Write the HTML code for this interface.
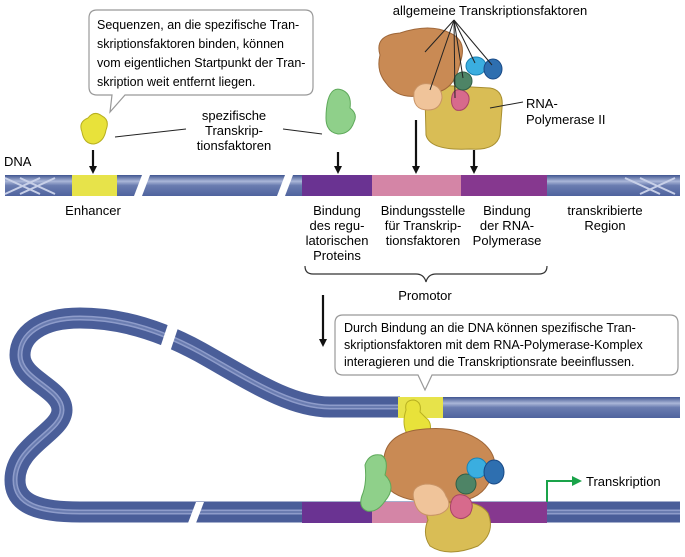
<!DOCTYPE html>
<html><head><meta charset="utf-8"><style>
html,body{margin:0;padding:0;background:#fff;}
svg{display:block;font-family:"Liberation Sans",sans-serif;}
</style></head><body>
<svg width="685" height="557" viewBox="0 0 685 557" xmlns="http://www.w3.org/2000/svg">
<defs>
<linearGradient id="dna" x1="0" y1="0" x2="0" y2="1">
<stop offset="0" stop-color="#3f5590"/><stop offset="0.3" stop-color="#aab6d8"/><stop offset="0.5" stop-color="#6a7cb0"/><stop offset="1" stop-color="#4f639e"/>
</linearGradient>
<marker id="ah" markerWidth="8" markerHeight="8" refX="4" refY="4" orient="auto" markerUnits="userSpaceOnUse"><path d="M0,0 L8,4 L0,8z" fill="#111"/></marker>
</defs>
<!-- top DNA -->
<rect x="5" y="175" width="675" height="21" fill="url(#dna)"/>
<rect x="72" y="175" width="45" height="21" fill="#e7e34a"/>
<rect x="302" y="175" width="70" height="21" fill="#6a3392"/>
<rect x="372" y="175" width="89" height="21" fill="#d485a6"/>
<rect x="461" y="175" width="86" height="21" fill="#86388f"/>
<polygon points="142,175 150,175 142,196 134,196" fill="#fff"/>
<polygon points="285,175 293,175 285,196 277,196" fill="#fff"/>
<path d="M5,178 L40,194 M5,194 L40,178 M20,178 L55,194 M20,194 L55,178 M640,178 L675,194 M640,194 L675,178 M625,178 L660,194" stroke="#c8d0e8" stroke-width="2" fill="none"/>
<!-- labels -->
<text x="4" y="166" font-size="13">DNA</text>
<text x="93" y="215" font-size="13" text-anchor="middle">Enhancer</text>
<g font-size="13" text-anchor="middle">
<text x="337" y="215">Bindung</text><text x="337" y="230">des regu-</text><text x="337" y="245">latorischen</text><text x="337" y="260">Proteins</text>
<text x="423" y="215">Bindungsstelle</text><text x="423" y="230">für Transkrip-</text><text x="423" y="245">tionsfaktoren</text>
<text x="507" y="215">Bindung</text><text x="507" y="230">der RNA-</text><text x="507" y="245">Polymerase</text>
<text x="605" y="215">transkribierte</text><text x="605" y="230">Region</text>
<text x="425" y="300">Promotor</text>
<text x="234" y="120">spezifische</text><text x="234" y="135">Transkrip-</text><text x="234" y="150">tionsfaktoren</text>
</g>
<path d="M305,266 q0,8 8,8 L416,274 q8,0 10,8 q2,-8 10,-8 L539,274 q8,0 8,-8" stroke="#333" fill="none" stroke-width="1.2"/>
<!-- arrows -->
<g stroke="#111" stroke-width="2.2" marker-end="url(#ah)">
<line x1="93" y1="150" x2="93" y2="170"/>
<line x1="338" y1="152" x2="338" y2="170"/>
<line x1="416" y1="120" x2="416" y2="170"/>
<line x1="474" y1="150" x2="474" y2="170"/>
<line x1="323" y1="295" x2="323" y2="343"/>
</g>
<line x1="115" y1="137" x2="186" y2="129" stroke="#222"/>
<line x1="283" y1="129" x2="322" y2="134" stroke="#222"/>
<!-- callout 1 -->
<path d="M97,10 H305 q8,0 8,8 V87 q0,8 -8,8 H125 L110,112 L112,95 H97 q-8,0 -8,-8 V18 q0,-8 8,-8z" fill="#fff" stroke="#999" stroke-width="1.2"/>
<g font-size="12.5"><text x="97" y="29">Sequenzen, an die spezifische Tran-</text><text x="97" y="48">skriptionsfaktoren binden, können</text><text x="97" y="67">vom eigentlichen Startpunkt der Tran-</text><text x="97" y="86">skription weit entfernt liegen.</text></g>
<!-- yellow enhancer protein top -->
<path d="M82,132 q-4,-10 6,-14 q6,-8 14,-2 q8,4 4,14 q-2,12 -12,14 q-10,0 -12,-12z" fill="#e8e23a" stroke="#b8b020"/>
<!-- green protein top -->
<path d="M328,100 q4,-14 14,-10 q10,4 8,18 q8,6 4,14 q-4,12 -16,12 q-12,-2 -12,-16 q0,-10 2,-18z" fill="#8fd08a" stroke="#5ea95a"/>
<!-- top complex -->
<g>
<text x="490" y="15" font-size="13" text-anchor="middle">allgemeine Transkriptionsfaktoren</text>
<path d="M425,95 q0,-8 10,-10 L490,88 q14,2 12,20 L500,135 q-4,16 -30,14 q-40,2 -44,-14z" fill="#d9bd55" stroke="#a88f30"/>
<path d="M380,55 q-6,-20 20,-22 q30,-10 50,0 q18,8 10,30 q-6,30 -30,30 q-30,10 -44,-10 q-10,-12 -6,-28z" fill="#c98a54" stroke="#9e6638"/>
<path d="M414,92 q4,-10 16,-8 q12,2 12,14 q-2,12 -14,12 q-16,0 -14,-18z" fill="#f0c49a" stroke="#c99466"/>
<path d="M452,96 q2,-8 10,-6 q10,4 6,14 q-4,8 -12,6 q-6,-4 -4,-14z" fill="#d76a8c" stroke="#a94466"/>
<ellipse cx="463" cy="81" rx="9" ry="9" fill="#4e8466" stroke="#2f5e46"/>
<ellipse cx="476" cy="66" rx="10" ry="9" fill="#3aaee0" stroke="#1a82b4"/>
<ellipse cx="493" cy="69" rx="9" ry="10" fill="#2e6fb0" stroke="#1a4a86"/>
<g stroke="#222" stroke-width="1"><line x1="454" y1="20" x2="425" y2="52"/><line x1="454" y1="20" x2="430" y2="90"/><line x1="454" y1="20" x2="455" y2="98"/><line x1="454" y1="20" x2="463" y2="78"/><line x1="454" y1="20" x2="475" y2="63"/><line x1="454" y1="20" x2="492" y2="65"/><line x1="490" y1="108" x2="523" y2="102"/></g>
<text x="526" y="108" font-size="13">RNA-</text><text x="526" y="124" font-size="13">Polymerase II</text>
</g>
<!-- bottom loop DNA -->
<path id="lp" d="M400,407 L330,407 C290,407 250,380 200,352 C160,330 120,318 80,318 C40,318 20,335 20,355 C20,380 62,388 62,410 C62,432 15,445 15,480 C15,505 40,512 80,512 L680,512" stroke="#4a5e99" stroke-width="21" fill="none"/>
<path d="M400,407 L330,407 C290,407 250,380 200,352 C160,330 120,318 80,318 C40,318 20,335 20,355 C20,380 62,388 62,410 C62,432 15,445 15,480 C15,505 40,512 80,512 L680,512" stroke="#8e9cca" stroke-width="5" fill="none"/>
<path d="M400,407 L330,407 C290,407 250,380 200,352 C160,330 120,318 80,318 C40,318 20,335 20,355 C20,380 62,388 62,410 C62,432 15,445 15,480 C15,505 40,512 80,512 L680,512" stroke="#6a7cb0" stroke-width="2" fill="none"/>
<rect x="400" y="397" width="280" height="21" fill="url(#dna)"/>
<rect x="398" y="397" width="45" height="21" fill="#e7e34a"/>
<rect x="302" y="502" width="70" height="21" fill="#6a3392"/>
<rect x="372" y="502" width="89" height="21" fill="#d485a6"/>
<rect x="461" y="502" width="86" height="21" fill="#86388f"/>
<polygon points="168,324 178,328 170,352 160,348" fill="#fff"/>
<polygon points="196,502 204,502 196,523 188,523" fill="#fff"/>
<!-- callout 2 -->
<path d="M343,315 H670 q8,0 8,8 V367 q0,8 -8,8 H432 L425,390 L418,375 H343 q-8,0 -8,-8 V323 q0,-8 8,-8z" fill="#fff" stroke="#999" stroke-width="1.2"/>
<g font-size="12.5"><text x="344" y="332">Durch Bindung an die DNA können spezifische Tran-</text><text x="344" y="349">skriptionsfaktoren mit dem RNA-Polymerase-Komplex</text><text x="344" y="366">interagieren und die Transkriptionsrate beeinflussen.</text></g>
<!-- bottom complex -->
<path d="M406,410 q-2,-10 8,-10 q8,2 6,12 l6,6 q6,4 4,14 l-24,0 q-4,-10 0,-22z" fill="#e8e23a" stroke="#b8b020"/>
<path d="M428,520 q-6,-15 20,-17 q30,-4 40,10 q8,20 -10,33 q-30,12 -48,0 q-8,-12 -2,-26z" fill="#d9bd55" stroke="#a88f30"/>
<path d="M384,470 q-4,-34 32,-40 q42,-6 66,12 q22,18 6,42 q-10,18 -40,18 q-42,2 -58,-12 q-6,-10 -6,-20z" fill="#c98a54" stroke="#9e6638"/>
<path d="M365,465 q4,-12 16,-10 q8,4 4,20 q12,12 0,26 q-8,12 -18,10 q-10,-4 -4,-18 q4,-12 2,-28z" fill="#8fd08a" stroke="#5ea95a"/>
<path d="M414,500 q-4,-14 12,-16 q16,0 20,12 q8,12 -6,18 q-22,6 -26,-14z" fill="#f0c49a" stroke="#c99466"/>
<path d="M452,500 q4,-8 14,-4 q10,6 4,18 q-8,8 -16,2 q-6,-6 -2,-16z" fill="#d76a8c" stroke="#a94466"/>
<ellipse cx="466" cy="484" rx="10" ry="10" fill="#4e8466" stroke="#2f5e46"/>
<ellipse cx="477" cy="468" rx="10" ry="10" fill="#3aaee0" stroke="#1a82b4"/>
<ellipse cx="494" cy="472" rx="10" ry="12" fill="#2e6fb0" stroke="#1a4a86"/>
<!-- Transkription arrow -->
<path d="M547,502 V481 H573" stroke="#1aa34a" stroke-width="2" fill="none"/>
<path d="M572,476 L582,481 L572,486z" fill="#1aa34a"/>
<text x="586" y="486" font-size="13">Transkription</text>
</svg>
</body></html>
